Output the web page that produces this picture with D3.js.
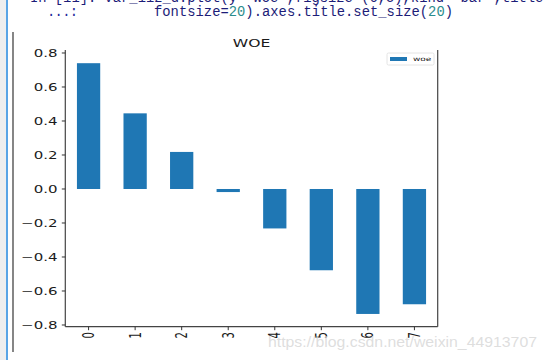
<!DOCTYPE html>
<html><head><meta charset="utf-8">
<script src="https://cdn.jsdelivr.net/npm/d3@7"></script>
<style>html,body{margin:0;padding:0;background:#fff;}svg{display:block;}</style>
</head><body>
<script>
const categories = ["0","1","2","3","4","5","6","7"];
const woe = [0.74, 0.445, 0.218, -0.018, -0.232, -0.478, -0.735, -0.678];
const yTicks = [-0.8, -0.6, -0.4, -0.2, 0.0, 0.2, 0.4, 0.6, 0.8];
const title = "WOE";
const legendLabel = "woe";
const codeLine1 = "In [11]: var_iiz_d.plot(y='woe',figsize=(6,5),kind='bar',title='WOE',";
const watermark = "https://blog.csdn.net/weixin_44913707";

(function () {
const W = 549, H = 360;
const svg = d3.select("body").append("svg").attr("width", W).attr("height", H);
svg.append("rect").attr("width", W).attr("height", H).attr("fill", "#fff");

// notebook chrome
svg.append("rect").attr("x", 0).attr("y", 0).attr("width", 6).attr("height", H).attr("fill", "#efefef");
svg.append("rect").attr("x", 6).attr("y", 0).attr("width", 2).attr("height", H).attr("fill", "#5aa5e6");
svg.append("line").attr("x1", 13).attr("x2", 13).attr("y1", 32).attr("y2", 352).attr("stroke", "#444").attr("stroke-width", 1.3);

const mono = "'Liberation Mono','DejaVu Sans Mono',monospace";
svg.append("text").attr("x", 30).attr("y", 1.5).attr("font-family", mono).attr("font-size", 13.8).attr("fill", "#1c1c78").text(codeLine1);
svg.append("text").attr("x", 47).attr("y", 15.5).attr("font-family", mono).attr("font-size", 13.8)
  .attr("textLength", 31).attr("lengthAdjust", "spacing").attr("fill", "#1e2a9a").text("...:");
const l2 = svg.append("text").attr("x", 154).attr("y", 15.5).attr("font-family", mono).attr("font-size", 13.8)
  .attr("textLength", 299).attr("lengthAdjust", "spacing").attr("fill", "#1c1c78");
l2.append("tspan").text("fontsize=");
l2.append("tspan").attr("fill", "#2a8c8c").text("20");
l2.append("tspan").text(").axes.title.set_size(");
l2.append("tspan").attr("fill", "#2a8c8c").text("20");
l2.append("tspan").text(")");

// plot
const pL = 65.3, pR = 437.7, pT = 50, pB = 326.7;
const x = d3.scaleBand().domain(categories).range([pL, pR]).paddingInner(0.5).paddingOuter(0.25);
const y = d3.scaleLinear().domain([-0.81, 0.8176]).range([pB, pT]);
const font = "'DejaVu Sans',sans-serif";
const SX = 1.5;
const ink = "#1a1a1a";

svg.append("g").selectAll("rect").data(woe).join("rect")
  .attr("x", (d, i) => x(categories[i]))
  .attr("width", x.bandwidth())
  .attr("y", d => y(Math.max(0, d)))
  .attr("height", d => Math.abs(y(d) - y(0)))
  .attr("fill", "#1f77b4");

// spines
const sp = svg.append("g").attr("stroke", "#444").attr("stroke-width", 1.2).attr("fill", "none");
sp.append("line").attr("x1", pL).attr("x2", pL).attr("y1", pT).attr("y2", pB);
sp.append("line").attr("x1", pR).attr("x2", pR).attr("y1", pT).attr("y2", pB);
sp.append("line").attr("x1", pL).attr("x2", pR).attr("y1", pB).attr("y2", pB);

// y axis ticks
const fmt = v => (v < 0 ? "\u2212" : "") + Math.abs(v).toFixed(1);
const yg = svg.append("g");
yTicks.forEach(t => {
  yg.append("line").attr("x1", pL - 3.5).attr("x2", pL).attr("y1", y(t)).attr("y2", y(t)).attr("stroke", "#333").attr("stroke-width", 1);
  yg.append("text").attr("transform", `translate(57.5,${y(t)}) scale(${SX},1)`)
    .attr("dy", "0.36em").attr("text-anchor", "end").attr("font-family", font).attr("font-size", 10).attr("fill", ink).text(fmt(t));
});

// x axis ticks
const xg = svg.append("g");
categories.forEach(c => {
  const cx = x(c) + x.bandwidth() / 2;
  xg.append("line").attr("x1", cx).attr("x2", cx).attr("y1", pB).attr("y2", pB + 3.5).attr("stroke", "#333").attr("stroke-width", 1);
  xg.append("text").attr("transform", `translate(${cx},${pB + 5.5}) scale(${SX},1) rotate(-90)`)
    .attr("dy", "0.36em").attr("text-anchor", "end").attr("font-family", font).attr("font-size", 10).attr("fill", ink).text(c);
});

// title
svg.append("text").attr("transform", `translate(${(pL + pR) / 2},46.7) scale(1.42,1)`)
  .attr("text-anchor", "middle").attr("font-family", font).attr("font-size", 11).attr("fill", ink).text(title);

// legend
const lg = svg.append("g");
lg.append("rect").attr("x", 387).attr("y", 53).attr("width", 47).attr("height", 12).attr("rx", 1.5)
  .attr("fill", "#fff").attr("stroke", "#ddd").attr("stroke-width", 0.8);
lg.append("rect").attr("x", 390).attr("y", 57).attr("width", 17).attr("height", 4).attr("fill", "#1f77b4");
lg.append("text").attr("transform", "translate(413,61.3) scale(1.5,1)").attr("font-family", font).attr("font-size", 6).attr("fill", ink).text(legendLabel);

// watermark
svg.append("text").attr("x", 268).attr("y", 346.5).attr("font-family", "'Liberation Sans',Arial,sans-serif").attr("font-size", 15.5)
  .attr("textLength", 269).attr("lengthAdjust", "spacingAndGlyphs").attr("fill", "#d8d8d8").attr("fill-opacity", 0.85).text(watermark);
})();
</script>
</body></html>
